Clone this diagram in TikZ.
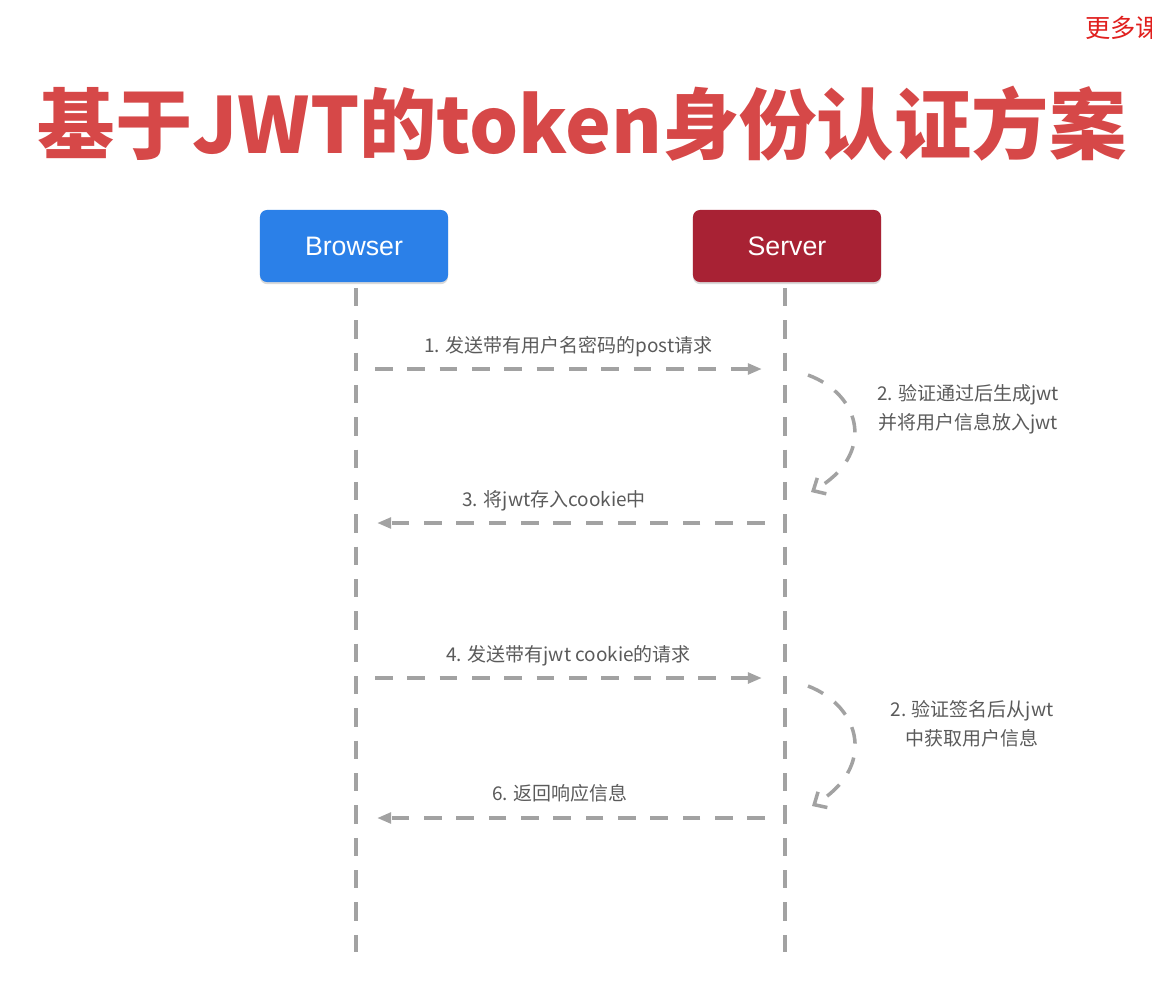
\documentclass[tikz,border=0pt]{standalone}
\usepackage{fontspec}
\setmainfont{Liberation Sans}
\newfontfamily\cjk{Noto Sans CJK SC}
\newfontfamily\cjkfuerte{Noto Sans CJK SC Black}
\usepackage{xcolor}
\usepackage{tikz}
\usetikzlibrary{positioning,arrows.meta,shadows}
\definecolor{azul}{HTML}{2B80E8}
\definecolor{granate}{HTML}{A82234}
\definecolor{rojo}{HTML}{D64848}
\definecolor{aviso}{HTML}{E0201E}
\definecolor{linea}{HTML}{A2A2A2}
\definecolor{texto}{HTML}{5A5A5A}

\begin{document}
\begin{tikzpicture}[
  x=0.025cm, y=-0.025cm,
  actor/.style={rounded corners=5pt, minimum width=4.7cm, minimum height=1.8cm, text=white, font=\fontsize{19}{22}\selectfont, drop shadow={shadow xshift=0pt, shadow yshift=-1.5pt, opacity=0.3}},
  vida/.style={draw=linea, line width=2.5pt, dash pattern=on 13pt off 10pt},
  mensaje/.style={draw=linea, line width=2.6pt, dash pattern=on 12.5pt off 10.5pt, -{Triangle[length=10pt, width=7.5pt]}},
  proceso/.style={draw=linea, line width=2.5pt, dash pattern=on 12pt off 10pt, -{Straight Barb[length=7pt, width=13pt, line width=2.5pt]}},
  etq/.style={font=\cjk\fontsize{13.5}{20.5}\selectfont, text=texto, inner sep=1pt},
  nota/.style={etq, align=center}
]
\useasboundingbox (0,0) rectangle (1152,987);

\node[font=\cjkfuerte\fontsize{55}{60}\selectfont, text=rojo] (titulo) at (582,124) {基于JWT的token身份认证方案};
\node[font=\cjk\fontsize{18}{20}\selectfont, text=aviso, anchor=west, inner sep=0pt] (mas) at (1085,28) {更多课};

\node[actor, fill=azul] (browser) at (354,246) {Browser};
\node[actor, fill=granate] (server) at (787,246) {Server};

\coordinate (bfin) at (356,952);
\coordinate (sfin) at (785,952);
\draw[vida, shorten <=4pt] (browser.south -| bfin) -- (bfin);
\draw[vida, shorten <=4pt] (server.south -| sfin) -- (sfin);

\coordinate (b1) at (375,369);
\coordinate (s1) at (762,369);
\coordinate (s3) at (765,523);
\coordinate (b3) at (377,523);
\coordinate (b4) at (375,678);
\coordinate (s4) at (762,678);
\coordinate (s6) at (765,818);
\coordinate (b6) at (377,818);

\draw[mensaje] (b1) -- node[etq, above=6pt] {1. 发送带有用户名密码的post请求} (s1);
\draw[mensaje] (s3) -- node[etq, above=6pt, xshift=-12pt] {3. 将jwt存入cookie中} (b3);
\draw[mensaje] (b4) -- node[etq, above=6pt] {4. 发送带有jwt cookie的请求} (s4);
\draw[mensaje] (s6) -- node[etq, above=9pt, xshift=-8pt] {6. 返回响应信息} (b6);

\coordinate (c1a) at (808,375);
\coordinate (c1b) at (811,492);
\coordinate (c2a) at (808,686);
\coordinate (c2b) at (812,806);
\draw[proceso] (c1a) .. controls (862,395) and (876,455) .. (c1b);
\draw[proceso] (c2a) .. controls (862,707) and (876,768) .. (c2b);

\node[nota] (n2) at (968,409) {2. 验证通过后生成jwt\\并将用户信息放入jwt};
\node[nota] (n5) at (972,724) {2. 验证签名后从jwt\\中获取用户信息};
\end{tikzpicture}
\end{document}
